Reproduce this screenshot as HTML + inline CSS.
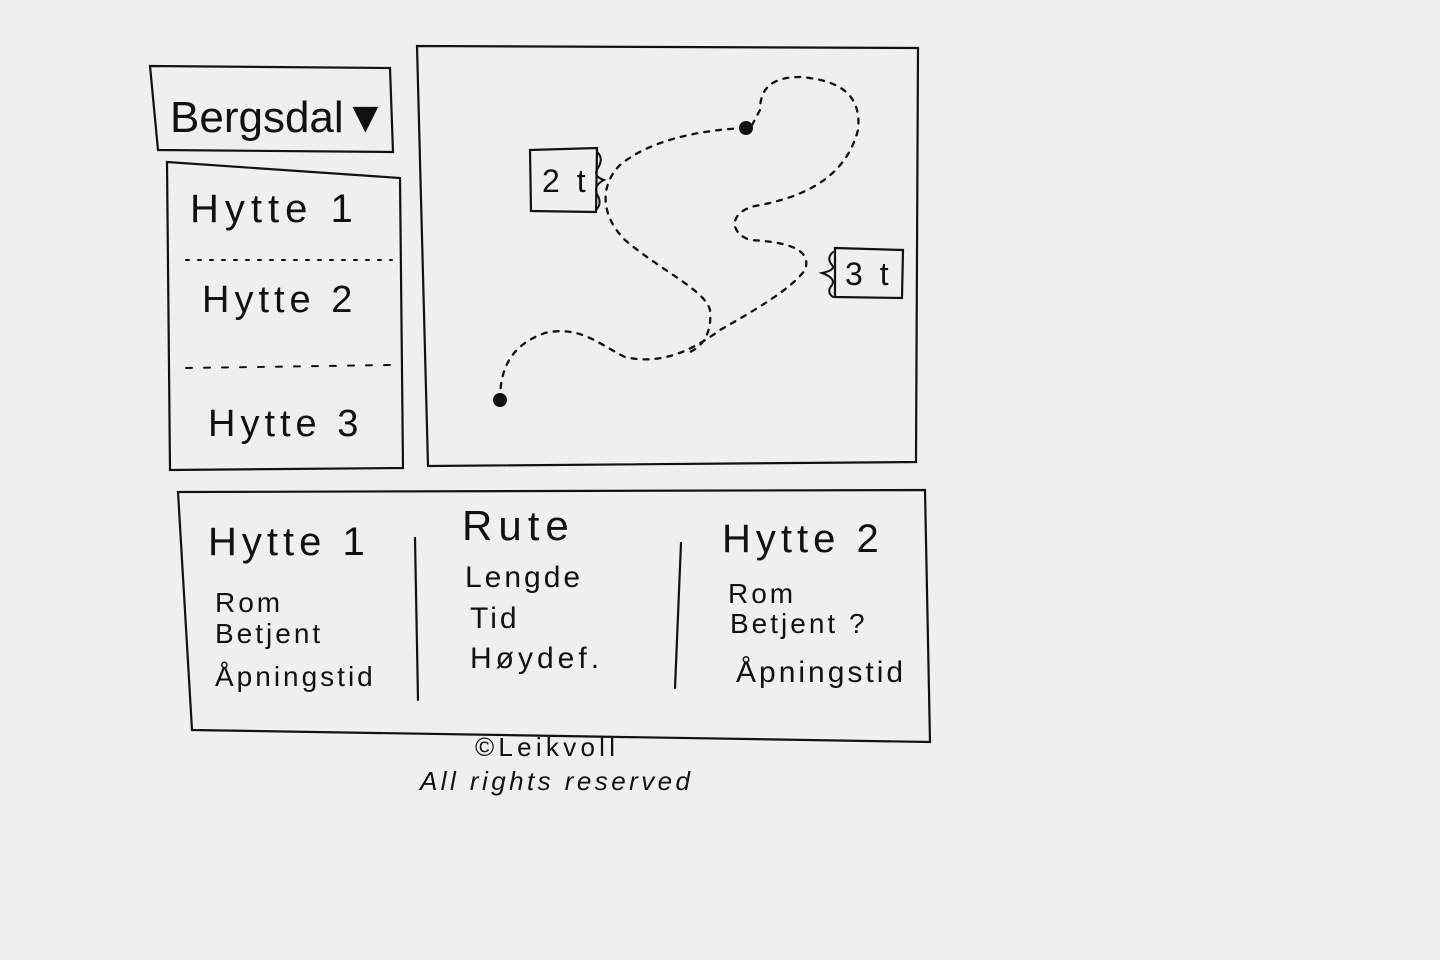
<!DOCTYPE html>
<html><head><meta charset="utf-8"><style>
html,body{margin:0;padding:0;background:#efefef;}
svg{display:block}
text{font-family:"Liberation Sans",sans-serif;fill:#111;}
</style></head><body>
<svg width="1440" height="960" viewBox="0 0 1440 960">
<rect width="1440" height="960" fill="#efefef"/>
<g fill="none" stroke="#111" stroke-width="2.2" stroke-linecap="round">
  <g>
    <path d="M150 66 L390 68 L393 152 L158 150 Z"/>
  </g>
  <g>
    <path d="M167 162 L400 178 L403 468 L170 470 Z"/>
    <path d="M186 260 L392 260" stroke-dasharray="3 9" stroke-width="2"/>
    <path d="M186 368 L392 365" stroke-dasharray="6 12" stroke-width="2"/>
  </g>
  <g>
    <path d="M417 46 L918 48 L916 462 L428 466 Z"/>
  </g>
  <g stroke-dasharray="5 7" stroke-width="2.3">
    <path d="M500 400 C500 370 510 345 545 333 C580 325 600 345 625 357 C660 365 690 352 720 330 C755 310 790 290 805 270 C812 250 790 242 750 240 C728 232 730 212 755 206 C800 198 845 180 858 130 C862 95 840 80 800 77 C770 77 760 90 760 110 L752 125"/>
    <path d="M745 128 C700 130 650 140 620 165 C600 185 600 215 625 240 C660 270 705 290 710 310 C712 330 705 345 690 352"/>
  </g>
  <circle cx="746" cy="128" r="7" fill="#111" stroke="none"/>
  <circle cx="500" cy="400" r="7" fill="#111" stroke="none"/>
  <g>
    <path d="M530 150 L597 148 L596 212 L531 211 Z"/>
    <path d="M597 152 Q604 158 598 168 Q592 176 604 180 Q592 186 598 196 Q602 204 596 210" stroke-width="2"/>
  </g>
  <g>
    <path d="M835 248 L903 250 L902 298 L835 297 Z"/>
    <path d="M833 252 Q826 258 832 265 Q836 270 822 273 Q836 278 832 285 Q826 292 833 297" stroke-width="2"/>
  </g>
  <g>
    <path d="M178 492 L925 490 L930 742 L192 730 Z"/>
    <path d="M415 538 L418 700"/>
    <path d="M681 543 L675 688"/>
  </g>
</g>
<text x="170" y="132" font-size="44">Bergsdal▼</text>
<text x="190" y="222" font-size="40" letter-spacing="6">Hytte 1</text>
<text x="202" y="312" font-size="38" letter-spacing="5">Hytte  2</text>
<text x="208" y="436" font-size="38" letter-spacing="5">Hytte  3</text>
<text x="542" y="192" font-size="32" letter-spacing="4">2 t</text>
<text x="845" y="285" font-size="32" letter-spacing="4">3 t</text>
<text x="208" y="555" font-size="40" letter-spacing="5">Hytte 1</text>
<text x="215" y="612" font-size="28" letter-spacing="3">Rom</text>
<text x="215" y="643" font-size="28" letter-spacing="3">Betjent</text>
<text x="215" y="686" font-size="28" letter-spacing="3">Åpningstid</text>
<text x="462" y="540" font-size="42" letter-spacing="6">Rute</text>
<text x="465" y="587" font-size="30" letter-spacing="3">Lengde</text>
<text x="470" y="628" font-size="30" letter-spacing="3">Tid</text>
<text x="470" y="668" font-size="30" letter-spacing="4">Høydef.</text>
<text x="722" y="552" font-size="40" letter-spacing="5">Hytte 2</text>
<text x="728" y="603" font-size="28" letter-spacing="3">Rom</text>
<text x="730" y="633" font-size="28" letter-spacing="3">Betjent ?</text>
<text x="736" y="682" font-size="30" letter-spacing="3">Åpningstid</text>
<text x="475" y="756" font-size="26" textLength="140">©Leikvoll</text>
<text x="420" y="790" font-size="26" font-style="italic" textLength="270">All rights reserved</text>
</svg>
</body></html>
